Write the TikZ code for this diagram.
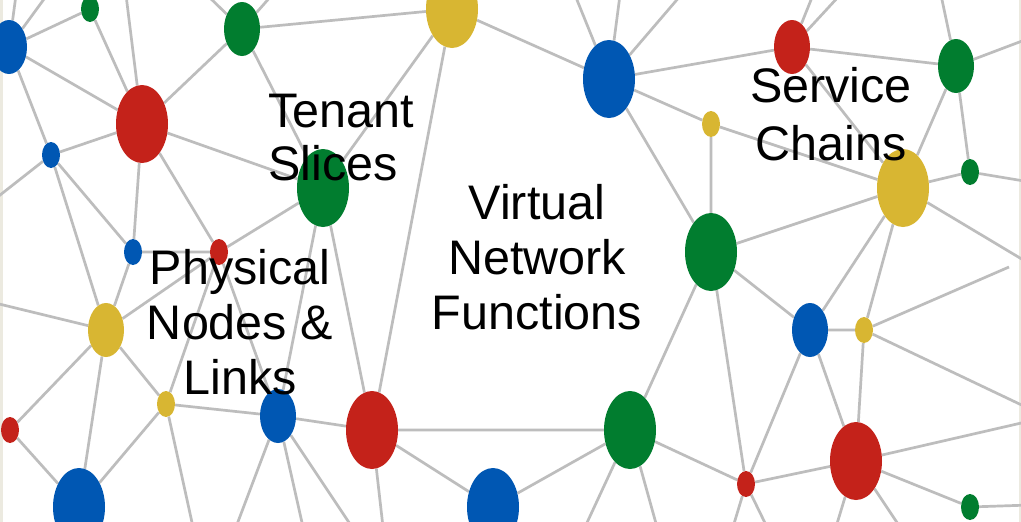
\documentclass[tikz,border=0pt]{standalone}
\usepackage{fontspec}
\setmainfont{Liberation Sans}
\usetikzlibrary{shapes.geometric,backgrounds}
\definecolor{cred}{HTML}{C4221A}
\definecolor{cblue}{HTML}{0057B3}
\definecolor{cgreen}{HTML}{017D2F}
\definecolor{cyellow}{HTML}{D8B632}
\definecolor{cline}{HTML}{BDBDBD}
\definecolor{cbeige}{HTML}{ECEAE0}
\tikzset{
  vtx/.style={ellipse, inner sep=0pt, draw=none},
  big/.style={vtx, minimum width=52pt, minimum height=78pt},
  med/.style={vtx, minimum width=36pt, minimum height=54pt},
  sml/.style={vtx, minimum width=18pt, minimum height=26pt},
  nred/.style={fill=cred}, nblue/.style={fill=cblue},
  ngreen/.style={fill=cgreen}, nyellow/.style={fill=cyellow},
  link/.style={draw=cline, line width=2.7pt},
  lab/.style={inner sep=0pt, font=\fontsize{48.5}{55}\selectfont, text=black}
}
\begin{document}
\begin{tikzpicture}[x=1pt,y=-1pt]
\clip (0,0) rectangle (1021,522);
% vertices
\node[med,nblue]   (n1)  at (9,47) {};
\node[sml,ngreen]  (n2)  at (90,9) {};
\node[big,nred]    (n3)  at (142,124) {};
\node[med,ngreen]  (n4)  at (242,29) {};
\node[sml,nblue]   (n5)  at (51,155) {};
\node[sml,nblue]   (n6)  at (133,252) {};
\node[sml,nred]    (n7)  at (219,252) {};
\node[big,ngreen]  (n8)  at (323,188) {};
\node[big,nyellow] (n9)  at (452,9) {};
\node[big,nblue]   (n10) at (609,79) {};
\node[med,nred]    (n11) at (792,47) {};
\node[med,ngreen]  (n12) at (956,66) {};
\node[sml,nyellow] (n13) at (711,124) {};
\node[big,nyellow] (n14) at (903,188) {};
\node[sml,ngreen]  (n15) at (970,172) {};
\node[big,ngreen]  (n16) at (711,252) {};
\node[med,nyellow] (n17) at (106,330) {};
\node[sml,nyellow] (n18) at (166,404) {};
\node[sml,nred]    (n19) at (10,430) {};
\node[big,nblue]   (n20) at (79,507) {};
\node[med,nblue]   (n21) at (278,416) {};
\node[big,nred]    (n22) at (372,430) {};
\node[big,nblue]   (n23) at (493,507) {};
\node[big,ngreen]  (n24) at (630,430) {};
\node[med,nblue]   (n25) at (810,330) {};
\node[sml,nyellow] (n26) at (864,330) {};
\node[sml,nred]    (n27) at (746,484) {};
\node[big,nred]    (n28) at (856,461) {};
\node[sml,ngreen]  (n29) at (970,507) {};
% free ends beyond the frame
\coordinate (t1) at (16,-5);   \coordinate (t2) at (47,-5);
\coordinate (t3) at (126,-5);  \coordinate (t4) at (207,-5);
\coordinate (t5) at (272,-5);  \coordinate (t6) at (575,-5);
\coordinate (t7) at (620,-5);  \coordinate (t8) at (681,-5);
\coordinate (t9) at (813,-5);  \coordinate (t10) at (840,-5);
\coordinate (t11) at (941,-5);
\coordinate (l1) at (-5,199);  \coordinate (l2) at (-5,303);
\coordinate (r1) at (1030,38); \coordinate (r2) at (1030,264);
\coordinate (r3) at (1030,182);\coordinate (r4) at (1030,409);
\coordinate (r5) at (1030,421);\coordinate (r6) at (1030,505);
\coordinate (e1) at (1009,267);
\coordinate (b1) at (193,527); \coordinate (b2) at (236,527);
\coordinate (b3) at (303,527); \coordinate (b4) at (352,527);
\coordinate (b5) at (383,527); \coordinate (b6) at (585,527);
\coordinate (b7) at (657,527); \coordinate (b8) at (733,527);
\coordinate (b9) at (767,527); \coordinate (b10) at (836,527);
\coordinate (b11) at (900,527);
\begin{scope}[on background layer]
\fill[white] (0,0) rectangle (1021,522);
\fill[cbeige] (0,0) rectangle (2.5,522);
\fill[cbeige] (1018.5,0) rectangle (1021,522);
\path[link]
  (n1)--(n2) (n1)--(n3) (n1)--(n5) (n1)--(t1) (n1)--(t2)
  (n2)--(n3)
  (n3)--(t3) (n3)--(n4) (n3)--(n8) (n3)--(n5) (n3)--(n6) (n3)--(n7)
  (n4)--(n9) (n4)--(t4) (n4)--(t5) (n4)--(n8)
  (n5)--(n6) (n5)--(l1) (n5)--(n17)
  (n6)--(n7) (n6)--(n17)
  (n7)--(n8) (n7)--(n18) (n7)--(n21) (n7)--(n17)
  (n8)--(n21) (n8)--(n22) (n8)--(n9)
  (n9)--(n22) (n9)--(n10)
  (n10)--(t6) (n10)--(t7) (n10)--(t8) (n10)--(n11) (n10)--(n13) (n10)--(n16)
  (n11)--(t9) (n11)--(t10) (n11)--(n12) (n11)--(n14)
  (n12)--(t11) (n12)--(r1) (n12)--(n14) (n12)--(n15)
  (n13)--(n14) (n13)--(n16)
  (n14)--(n15) (n14)--(n16) (n14)--(n25) (n14)--(n26) (n14)--(r2)
  (n15)--(r3)
  (n16)--(n24) (n16)--(n25) (n16)--(n27)
  (n17)--(l2) (n17)--(n18) (n17)--(n19) (n17)--(n20)
  (n18)--(n21) (n18)--(n20) (n18)--(b1)
  (n19)--(n20)
  (n21)--(n22) (n21)--(b2) (n21)--(b3) (n21)--(b4)
  (n22)--(n24) (n22)--(n23) (n22)--(b5)
  (n23)--(n24)
  (n24)--(n27) (n24)--(b6) (n24)--(b7)
  (n25)--(n26) (n25)--(n27) (n25)--(n28)
  (n26)--(n28) (n26)--(e1) (n26)--(r4)
  (n27)--(n28) (n27)--(b8) (n27)--(b9)
  (n28)--(r5) (n28)--(n29) (n28)--(b10) (n28)--(b11)
  (n29)--(r6);
\end{scope}
% labels (anchor base = baseline of the last line)
\node[lab, align=left, anchor=base west,
      font=\fontsize{48.5}{53}\selectfont] (tenant) at (268,180) {Tenant\\Slices};
\node[lab, align=center, anchor=base] (phys) at (240,394) {Physical\\Nodes \&\\Links};
\node[lab, align=center, anchor=base] (vnf) at (537,329) {Virtual\\Network\\Functions};
\node[lab, align=center, anchor=base,
      font=\fontsize{48.5}{58}\selectfont] (sfc) at (831,160) {Service\\Chains};
\end{tikzpicture}
\end{document}
